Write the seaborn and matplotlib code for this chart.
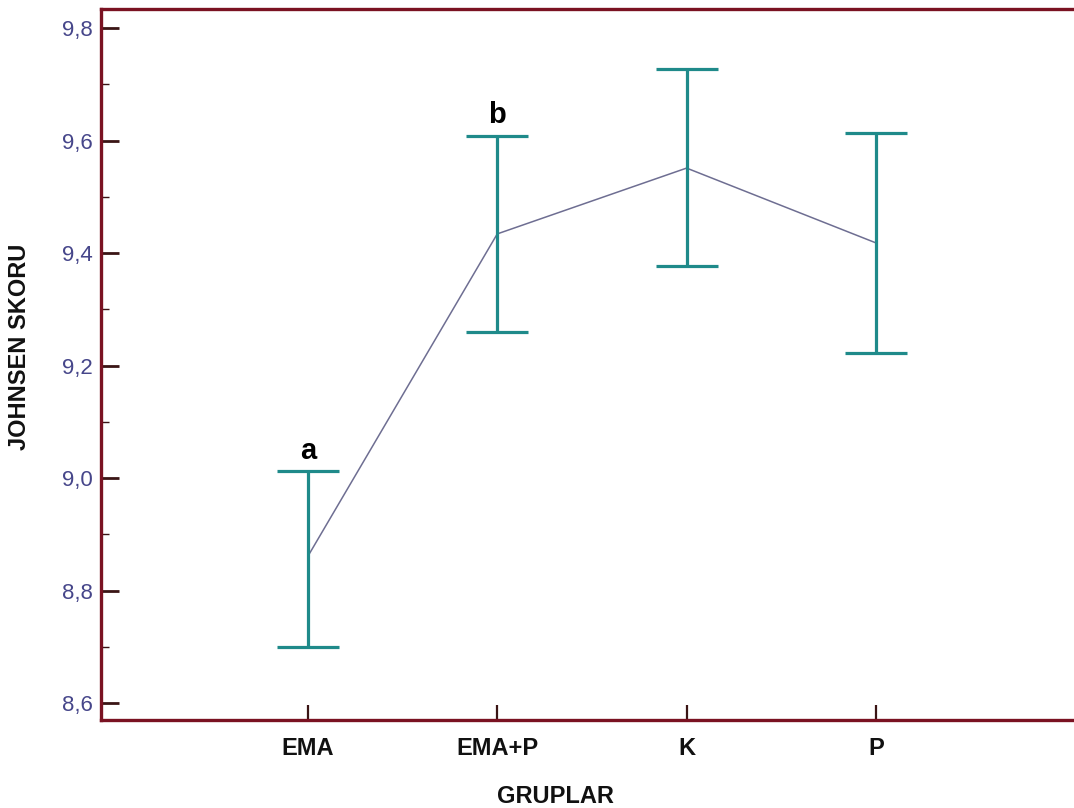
import numpy as np
import pandas as pd
import matplotlib
matplotlib.use("Agg")
import matplotlib.pyplot as plt
from matplotlib.ticker import MultipleLocator, FuncFormatter
import seaborn as sns

# Group means with their lower / upper interval limits
groups = ["EMA", "EMA+P", "K", "P"]
means = [8.861, 9.434, 9.551, 9.418]
lower = [8.699, 9.260, 9.377, 9.222]
upper = [9.012, 9.608, 9.727, 9.613]
sig_letters = {"EMA": "a", "EMA+P": "b"}

y_ticks = [8.6, 8.8, 9.0, 9.2, 9.4, 9.6, 9.8]

sns.set_style("white")
plt.rcParams["font.family"] = ["Liberation Sans", "DejaVu Sans"]

df = pd.DataFrame({"grup": groups, "skor": means,
                   "alt": lower, "ust": upper})
xpos = np.arange(len(groups))

fig = plt.figure(figsize=(10.74, 8.08), dpi=100)
ax = fig.add_axes([0.094, 0.109, 0.906, 0.880])

spine_col = "#7a1222"
bar_col = "#1f8a8a"
line_col = "#6e6e92"

# Thin connecting line through the group means
sns.lineplot(x=xpos, y=df["skor"], ax=ax, color=line_col, linewidth=1.1,
             zorder=2)

# Interval bars
err = np.vstack([df["skor"] - df["alt"], df["ust"] - df["skor"]])
ax.errorbar(xpos, df["skor"], yerr=err, fmt="none", ecolor=bar_col,
            elinewidth=2.3, capsize=22, capthick=2.3, zorder=3)

# Significance letters above the upper caps
for i, g in enumerate(groups):
    if g in sig_letters:
        ax.text(xpos[i], df["ust"][i] + 0.012, sig_letters[g],
                ha="center", va="bottom", fontsize=21, fontweight="bold",
                color="black")

ax.set_xlim(-1.093, 4.046)
ax.set_ylim(8.570, 9.834)

ax.set_xticks(xpos)
ax.set_xticklabels(groups, fontsize=17, fontweight="bold", color="#111111")
ax.set_yticks(y_ticks)
ax.yaxis.set_minor_locator(MultipleLocator(0.1))
ax.yaxis.set_major_formatter(FuncFormatter(lambda v, p: f"{v:.1f}".replace(".", ",")))
for lab in ax.get_yticklabels():
    lab.set_fontsize(16)
    lab.set_color("#46468a")

ax.tick_params(axis="y", which="major", direction="in", length=13, width=2,
               color="#3a1515", pad=6, left=True, right=False)
ax.tick_params(axis="y", which="minor", direction="in", length=6, width=1,
               color="#3a1515", left=True, right=False)
ax.tick_params(axis="x", which="major", direction="in", length=11, width=1.6,
               color="#3a1515", pad=12, bottom=True, top=False)

for side in ["left", "bottom", "top"]:
    ax.spines[side].set_visible(True)
    ax.spines[side].set_color(spine_col)
    ax.spines[side].set_linewidth(2.4)
ax.spines["right"].set_visible(False)

ax.set_xlabel("GRUPLAR", fontsize=17, fontweight="bold", color="#111111")
ax.set_ylabel("JOHNSEN SKORU", fontsize=17, fontweight="bold",
              color="#111111")
ax.xaxis.set_label_coords(0.4666, -0.092)
ax.yaxis.set_label_coords(-0.072, 0.525)
ax.grid(False)

fig.savefig("out.png", dpi=100)
